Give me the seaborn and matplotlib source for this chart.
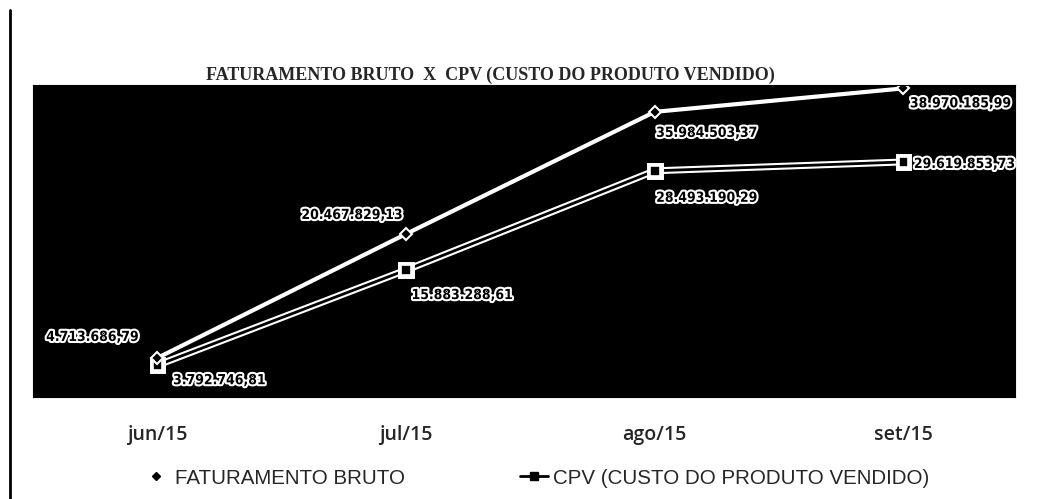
import pandas as pd
import numpy as np
import matplotlib.pyplot as plt
import matplotlib.patheffects as pe
from matplotlib.lines import Line2D
import seaborn as sns

meses = ['jun/15', 'jul/15', 'ago/15', 'set/15']
faturamento = [4713686.79, 20467829.13, 35984503.37, 38970185.99]
cpv = [3792746.81, 15883288.61, 28493190.29, 29619853.73]
rotulos_fat = ['4.713.686,79', '20.467.829,13', '35.984.503,37', '38.970.185,99']
rotulos_cpv = ['3.792.746,81', '15.883.288,61', '28.493.190,29', '29.619.853,73']

data = pd.DataFrame({'Mes': meses, 'Faturamento': faturamento, 'CPV': cpv})

sns.set_style('white')
fig = plt.figure(figsize=(10.45, 4.99), dpi=100)
ax = fig.add_axes([0.0316, 0.2044, 0.940, 0.6253])
ax.set_facecolor('black')

# CPV: black line with white outline
sns.lineplot(data=data, x='Mes', y='CPV', ax=ax, color='black', linewidth=2,
             marker='s', markersize=7, markerfacecolor='black', markeredgecolor='white',
             markeredgewidth=1.2, sort=False,
             path_effects=[pe.Stroke(linewidth=5, foreground='white'), pe.Normal()])
sns.lineplot(data=data, x='Mes', y='Faturamento', ax=ax, color='white', linewidth=3,
             marker='D', markersize=6.5, markerfacecolor='black', markeredgecolor='white',
             markeredgewidth=1.5, sort=False)

ax.set_xlim(-0.5, 3.45)
ax.set_ylim(-0.25e6, 39.4e6)
ax.set_yticks([])
ax.set_xlabel('')
ax.set_ylabel('')
ax.tick_params(axis='x', length=0, pad=20)
for lbl in ax.get_xticklabels():
    lbl.set_fontsize(14)
    lbl.set_fontfamily('Open Sans')
    lbl.set_fontweight('semibold')
for s in ax.spines.values():
    s.set_color('black')

halo = [pe.Stroke(linewidth=3, foreground='white'), pe.Normal()]
off_fat = [(-65, 21), (-54, 19), (52, -21), (57, -15)]
off_cpv = [(62, -15), (56, -25), (52, -27), (61, -2)]
for i in range(len(meses)):
    ax.annotate(rotulos_fat[i], (i, faturamento[i]), xytext=off_fat[i],
                textcoords='offset pixels', ha='center', va='center',
                fontsize=10, fontweight='bold', color='black', path_effects=halo,
                fontfamily='DejaVu Sans', fontstretch='condensed')
    ax.annotate(rotulos_cpv[i], (i, cpv[i]), xytext=off_cpv[i],
                textcoords='offset pixels', ha='center', va='center',
                fontsize=10, fontweight='bold', color='black', path_effects=halo,
                fontfamily='DejaVu Sans', fontstretch='condensed')

fig.text(0.469, 0.85, 'FATURAMENTO BRUTO  X  CPV (CUSTO DO PRODUTO VENDIDO)',
         ha='center', va='center', fontsize=13, fontweight='bold',
         fontfamily='Liberation Serif')

leg_font = {'family': 'Liberation Sans', 'size': 14.8}
h_fat = Line2D([], [], linestyle='none', marker='D', markersize=4, color='black')
h_cpv = Line2D([], [], color='black', linewidth=2, marker='s', markersize=6)
leg1 = fig.legend([h_fat], ['FATURAMENTO BRUTO'], loc='center left',
                  bbox_to_anchor=(0.139, 0.042), frameon=False, borderpad=0,
                  borderaxespad=0, handlelength=1.0, handletextpad=0.43, prop=leg_font)
leg2 = fig.legend([h_cpv], ['CPV (CUSTO DO PRODUTO VENDIDO)'], loc='center left',
                  bbox_to_anchor=(0.4976, 0.042), frameon=False, borderpad=0,
                  borderaxespad=0, handlelength=1.35, handletextpad=0.25, prop=leg_font)

# page border line on the left
fig.add_artist(Line2D([0.01, 0.01], [0.0, 0.98], color='black', linewidth=2))

fig.savefig('out.png', dpi=100, facecolor='white')
